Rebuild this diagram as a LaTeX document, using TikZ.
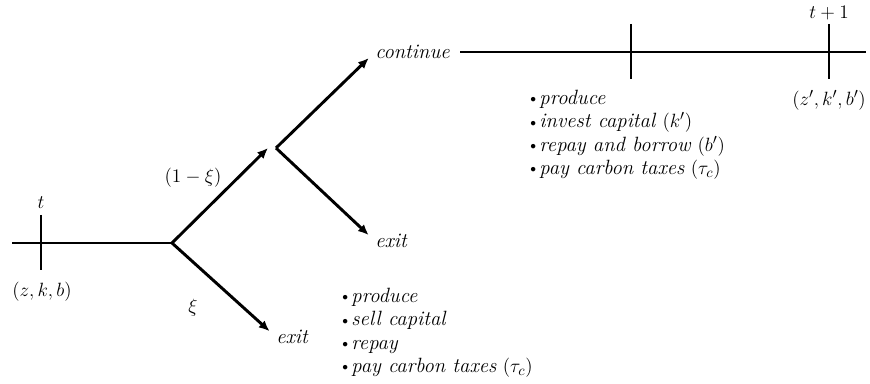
\documentclass[tikz,border=0pt]{standalone}
\usetikzlibrary{arrows.meta}
\newcommand{\bul}{\raisebox{0.2ex}{\scalebox{0.6}{$\bullet$}}\,}
\begin{document}
\begin{tikzpicture}[x=0.75pt,y=-0.75pt,
  ln/.style={line width=2.2pt},
  arr/.style={ln,-{Latex[length=8pt,width=7pt]}},
  gap/.style={shorten >=6.5pt},
  lbl/.style={font=\fontsize{15.5}{17}\selectfont, inner sep=0pt},
  lst/.style={font=\fontsize{15.5}{17.4}\selectfont, align=left, anchor=north west, inner sep=0pt}]
\useasboundingbox (0,0) rectangle (870,384);
% coordinates
\coordinate (L0) at (12,243);
\coordinate (B1) at (172,243);
\coordinate (T0a) at (41,215);
\coordinate (T0b) at (41,270);
\coordinate (U1) at (268,148);
\coordinate (B2) at (276,148);
\coordinate (R0) at (460,52);
\coordinate (R1) at (866,52);
\coordinate (T1a) at (631,24);
\coordinate (T1b) at (631,79);
\coordinate (T2a) at (829,24);
\coordinate (T2b) at (829,79);
% labels
\node[lbl] (t) at (41,203) {$t$};
\node[lbl] (zkb) at (42,292) {$(z,k,b)$};
\node[lbl] (p1) at (193,178) {$(1-\xi)$};
\node[lbl] (p2) at (193,308) {$\xi$};
\node[lbl,anchor=west] (exit1) at (276,337) {\textit{exit}};
\node[lbl,anchor=west] (cont) at (375,52) {\textit{continue}};
\node[lbl,anchor=west] (exit2) at (375,241) {\textit{exit}};
\node[lbl] (t1) at (829,13) {$t+1$};
\node[lbl] (zkb1) at (829,100) {$(z',k',b')$};
\node[lst] (list1) at (530,90) {%
\bul\textit{produce}\\
\bul\textit{invest capital} $(k')$\\
\bul\textit{repay and borrow} $(b')$\\
\bul\textit{pay carbon taxes} $(\tau_c)$};
\node[lst] (list2) at (342,288) {%
\bul\textit{produce}\\
\bul\textit{sell capital}\\
\bul\textit{repay}\\
\bul\textit{pay carbon taxes} $(\tau_c)$};
% lines
\draw[ln] (L0) -- (B1);
\draw[ln] (T0a) -- (T0b);
\draw[arr] (B1) -- (U1);
\draw[arr,gap] (B1) -- (exit1.west);
\draw[arr,gap] (B2) -- (cont.west);
\draw[arr,gap] (B2) -- (exit2.west);
\draw[ln] (R0) -- (R1);
\draw[ln] (T1a) -- (T1b);
\draw[ln] (T2a) -- (T2b);
\end{tikzpicture}
\end{document}
